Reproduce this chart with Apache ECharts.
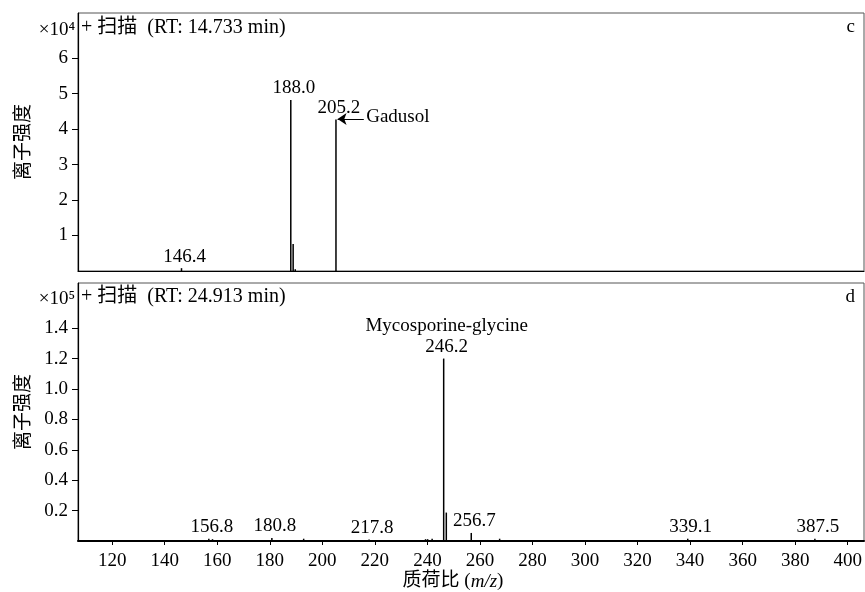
<!DOCTYPE html>
<html>
<head>
<meta charset="utf-8">
<script src="https://cdn.jsdelivr.net/npm/echarts@6/dist/echarts.min.js"></script>
<style>
  html, body { margin: 0; padding: 0; background: #fff; }
  #chart { width: 865px; height: 592px; }
</style>
</head>
<body>
<div id="chart"></div>
<script>
'use strict';

// shared m/z axis
const xTicks = [120, 140, 160, 180, 200, 220, 240, 260, 280, 300, 320, 340, 360, 380, 400];
const xMin = 107;
const xMax = 406.2;

// panel c (RT 14.733 min), intensity x10^4
const mzC = [146.4, 188.0, 188.9, 189.7, 205.2];
const intC = [0.08, 4.82, 0.76, 0.05, 4.27];
const tagC = ['146.4', '188.0', '', '', '205.2'];
const yTicksC = [1, 2, 3, 4, 5, 6];
const yMaxC = 7.27;

// panel d (RT 24.913 min), intensity x10^5
const mzD = [156.8, 158.2, 180.8, 192.9, 217.8, 239.3, 240.1, 241.8, 246.2, 247.2, 256.7, 267.5, 339.1, 387.5];
const intD = [0.015, 0.012, 0.02, 0.015, 0.01, 0.012, 0.012, 0.015, 1.20, 0.187, 0.053, 0.015, 0.015, 0.015];
const tagD = ['156.8', '', '180.8', '', '217.8', '', '', '', '246.2', '', '256.7', '', '339.1', '387.5'];
const nameD = ['', '', '', '', '', '', '', '', 'Mycosporine-glycine', '', '', '', '', ''];
const yTicksD = [0.2, 0.4, 0.6, 0.8, 1.0, 1.2, 1.4];
const yMaxD = 1.697;

const FONT = "'Liberation Serif', 'Noto Sans CJK SC', serif";
const FS = 19;
const chart = echarts.init(document.getElementById('chart'));

const peakLabel = (tags, names) => ({
  show: true,
  position: 'top',
  distance: 2,
  offset: [3, 0],
  color: '#000',
  fontFamily: FONT,
  fontSize: FS,
  formatter: (p) => {
    const n = names ? names[p.dataIndex] : '';
    return n ? `{n|${n}}\n${tags[p.dataIndex]}` : tags[p.dataIndex];
  },
  rich: { n: { fontFamily: FONT, fontSize: FS, color: '#000', lineHeight: 24 } }
});

const toData = (mz, ints, tags) => mz.map((x, i) => ({
  value: [x, ints[i]],
  label: { show: tags[i] !== '' }
}));

const yAxisCommon = {
  type: 'value',
  min: 0,
  name: '离子强度',
  nameLocation: 'middle',
  nameGap: 44,
  nameRotate: 90,
  nameTextStyle: { fontFamily: FONT, fontSize: 19, color: '#000' },
  splitLine: { show: false },
  axisLine: { show: true, lineStyle: { color: '#000', width: 1.2 } },
  axisTick: { show: true, length: 6, lineStyle: { color: '#000' } }
};

const option = {
  animation: false,
  backgroundColor: '#fff',
  grid: [
    { left: 78, right: 1, top: 13, height: 258, show: true, borderColor: '#555', borderWidth: 1, outerBoundsMode: 'none', containLabel: false },
    { left: 78, right: 1, top: 283, height: 258, show: true, borderColor: '#555', borderWidth: 1, outerBoundsMode: 'none', containLabel: false }
  ],
  xAxis: [
    {
      gridIndex: 0, type: 'value', min: xMin, max: xMax,
      splitLine: { show: false },
      axisLine: { lineStyle: { color: '#000', width: 1.2 } },
      axisTick: { show: false },
      axisLabel: { show: false }
    },
    {
      gridIndex: 1, type: 'value', min: xMin, max: xMax,
      name: '质荷比 ({i|m/z})',
      nameLocation: 'middle',
      nameGap: 31,
      nameTextStyle: {
        fontFamily: FONT, fontSize: 19, color: '#000',
        padding: [0, 36, 0, 0],
        rich: { i: { fontFamily: FONT, fontSize: 19, fontStyle: 'italic', color: '#000' } }
      },
      splitLine: { show: false },
      axisLine: { lineStyle: { color: '#000', width: 2 } },
      axisTick: { show: true, length: 4, customValues: xTicks, lineStyle: { color: '#000' } },
      axisLabel: { customValues: xTicks, margin: 11, fontFamily: FONT, fontSize: FS, color: '#000' }
    }
  ],
  yAxis: [
    Object.assign({}, yAxisCommon, {
      gridIndex: 0, max: yMaxC,
      axisTick: Object.assign({}, yAxisCommon.axisTick, { customValues: yTicksC }),
      axisLabel: { customValues: yTicksC, margin: 10, fontFamily: FONT, fontSize: FS, color: '#000' }
    }),
    Object.assign({}, yAxisCommon, {
      gridIndex: 1, max: yMaxD,
      axisTick: Object.assign({}, yAxisCommon.axisTick, { customValues: yTicksD }),
      axisLabel: {
        customValues: yTicksD, margin: 10, fontFamily: FONT, fontSize: FS, color: '#000',
        formatter: (v) => v.toFixed(1)
      }
    })
  ],
  series: [
    {
      type: 'bar',
      xAxisIndex: 0, yAxisIndex: 0,
      barWidth: 1.5,
      itemStyle: { color: '#000' },
      label: peakLabel(tagC),
      data: toData(mzC, intC, tagC),
      markLine: {
        silent: true,
        symbol: ['none', 'arrow'],
        symbolSize: 9,
        lineStyle: { color: '#000', width: 1, type: 'solid' },
        label: { show: false },
        data: [[{ coord: [215.8, 4.28] }, { coord: [205.8, 4.28] }]]
      },
      markPoint: {
        silent: true,
        symbolSize: 0,
        label: {
          show: true, position: 'right', distance: 0,
          fontFamily: FONT, fontSize: FS, color: '#000',
          formatter: 'Gadusol'
        },
        data: [{ coord: [216.7, 4.33] }]
      }
    },
    {
      type: 'bar',
      xAxisIndex: 1, yAxisIndex: 1,
      barWidth: 1.5,
      itemStyle: { color: '#000' },
      label: peakLabel(tagD, nameD),
      data: toData(mzD, intD, tagD)
    }
  ],
  graphic: [
    { type: 'text', style: { text: '×10⁴', x: 75, y: 30, fill: '#000', font: "19px 'Liberation Serif', 'DejaVu Serif', serif", textAlign: 'right', textVerticalAlign: 'middle' } },
    { type: 'text', style: { text: '+ 扫描  (RT: 14.733 min)', x: 81, y: 28, fill: '#000', font: "20px 'Liberation Serif', 'Noto Sans CJK SC', serif", textAlign: 'left', textVerticalAlign: 'middle' } },
    { type: 'text', style: { text: 'c', x: 855, y: 27, fill: '#000', font: "19px 'Liberation Serif', serif", textAlign: 'right', textVerticalAlign: 'middle' } },
    { type: 'text', style: { text: '×10⁵', x: 75, y: 299, fill: '#000', font: "19px 'Liberation Serif', 'DejaVu Serif', serif", textAlign: 'right', textVerticalAlign: 'middle' } },
    { type: 'text', style: { text: '+ 扫描  (RT: 24.913 min)', x: 81, y: 297, fill: '#000', font: "20px 'Liberation Serif', 'Noto Sans CJK SC', serif", textAlign: 'left', textVerticalAlign: 'middle' } },
    { type: 'text', style: { text: 'd', x: 855, y: 297, fill: '#000', font: "19px 'Liberation Serif', serif", textAlign: 'right', textVerticalAlign: 'middle' } }
  ]
};

chart.setOption(option);
</script>
</body>
</html>
